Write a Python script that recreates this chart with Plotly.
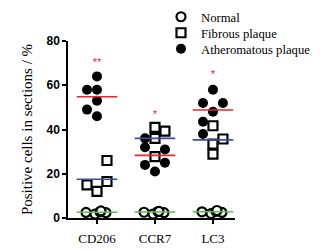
import plotly.graph_objects as go

categories = ["CD206", "CCR7", "LC3"]

# Normal group values per category
normal_vals = [[2.5, 1.8, 2.8, 2.4, 3.2],
               [2.6, 1.8, 2.9, 2.4, 3.0],
               [2.8, 2.0, 3.0, 2.5, 3.4]]
# Fibrous plaque values
fibrous_vals = [[26, 15, 12, 16.5],
                [41, 39.3, 36, 27.7],
                [41.7, 35.7, 33.4, 28.9]]
# Atheromatous plaque values
ather_vals = [[64, 58, 58, 53, 49, 46],
              [36, 32, 31, 24, 21, 25],
              [58, 52, 52, 48, 43.5, 38]]

normal_mean = [2.6, 2.7, 2.8]
fibrous_mean = [17.5, 36, 35.3]
ather_mean = [54.8, 28.3, 48.8]

sig_labels = ["**", "*", "*"]
sig_y = [70, 46.5, 64.6]

# column layout of points (scatter-plot jitter pattern)
normal_cols = [[-1.1, -0.2, 0.3, 0.9, 0.4]] * 3
fibrous_cols = [[1, -1, 0, 1], [0, 1, 0, 0], [0, 1, 0, 0]]
ather_cols = [[0, -1, 0, 0, -1, 0], [-1, -1, 1, -1, 0, 1], [0, -1, 1, 0, -1, -1]]
step = 0.172
half = 0.35

def flatten(vals, cols):
    xs, ys = [], []
    for i, (v, c) in enumerate(zip(vals, cols)):
        for yy, cc in zip(v, c):
            xs.append(i + cc * step)
            ys.append(yy)
    return xs, ys

fig = go.Figure()

ax, ay = flatten(ather_vals, ather_cols)
fx, fy = flatten(fibrous_vals, fibrous_cols)
nx, ny = flatten(normal_vals, normal_cols)

fig.add_trace(go.Scatter(x=nx, y=ny, mode="markers", name="Normal", legend="legend",
                         marker=dict(symbol="circle", size=9, color="white",
                                     line=dict(color="black", width=2.2)),
                         cliponaxis=False))
fig.add_trace(go.Scatter(x=fx, y=fy, mode="markers", name="Fibrous plaque", legend="legend2",
                         marker=dict(symbol="square", size=9, color="white",
                                     line=dict(color="black", width=2.2)),
                         cliponaxis=False))
fig.add_trace(go.Scatter(x=ax, y=ay, mode="markers", name="Atheromatous plaque", legend="legend3",
                         marker=dict(symbol="circle", size=10, color="black",
                                     line=dict(color="black", width=0)),
                         cliponaxis=False))

for means, col in [(ather_mean, "#e8262b"), (fibrous_mean, "#3c4da0"), (normal_mean, "#5cbf45")]:
    for i, m in enumerate(means):
        fig.add_trace(go.Scatter(x=[i - half, i + half], y=[m, m], mode="lines",
                                 line=dict(color=col, width=1.6), showlegend=False,
                                 hoverinfo="skip", cliponaxis=False))

fig.add_trace(go.Scatter(x=list(range(len(categories))), y=sig_y, mode="text",
                         text=sig_labels, textfont=dict(color="#e8262b", size=11,
                                                        family="Liberation Sans"),
                         showlegend=False, cliponaxis=False))

def leg(ypix):
    return dict(x=(161 - 68) / 167, y=1 + (41 - ypix) / 177, xanchor="left", yanchor="middle",
                font=dict(family="Liberation Serif", size=12.7, color="black"),
                bgcolor="rgba(0,0,0,0)", itemwidth=30, borderwidth=0)

fig.update_layout(
    width=336, height=251,
    margin=dict(l=68, r=101, t=41, b=33, autoexpand=False),
    paper_bgcolor="white", plot_bgcolor="white",
    showlegend=True,
    legend=leg(17), legend2=leg(33), legend3=leg(49),
    xaxis=dict(range=[-0.5, 2.38], tickvals=list(range(len(categories))), ticktext=categories,
               showgrid=False, zeroline=False, showline=True, linecolor="black", linewidth=1.5,
               ticks="outside", ticklen=4, tickwidth=1.5, tickcolor="black", ticklabelstandoff=4,
               tickfont=dict(family="Liberation Serif", size=13, color="black")),
    yaxis=dict(range=[0, 80], tickvals=[0, 20, 40, 60, 80], showgrid=False, zeroline=False,
               showline=True, linecolor="black", linewidth=1.5,
               ticks="outside", ticklen=4, tickwidth=1.5, tickcolor="black",
               tickfont=dict(family="Liberation Sans", size=12, color="black", weight="bold"),
               title=dict(text="Positive cells in sections / %", standoff=10,
                          font=dict(family="Liberation Serif", size=15, color="black"))),
)

fig.write_html("out.html", config={"displayModeBar": False},
               post_script="document.body.style.margin='0';")
